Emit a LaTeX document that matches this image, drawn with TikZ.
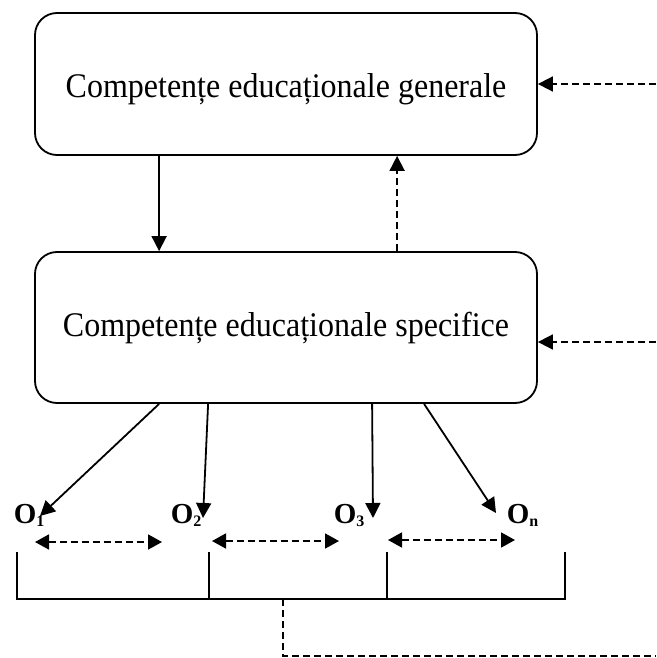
\documentclass[tikz,border=0pt]{standalone}
\usepackage{fontspec}
\setmainfont{Liberation Serif}
\usetikzlibrary{arrows.meta,calc}
\begin{document}
\begin{tikzpicture}[x=1pt,y=-1pt,
  line width=1.8pt,
  tip/.style={-{Triangle[length=15pt,width=15pt]}},
  dtip/.style={{Triangle[length=14pt,width=15pt]}-{Triangle[length=14pt,width=15pt]}},
  dashline/.style={dash pattern=on 7pt off 4pt},
  box/.style={draw, rounded corners=22pt, minimum width=502pt, inner sep=0pt},
  boxtext/.style={font=\fontsize{32}{36}\selectfont, anchor=base, inner sep=0pt},
  olabel/.style={font=\fontsize{29}{30}\selectfont\bfseries, anchor=base west, inner sep=0pt},
]
\useasboundingbox (0,0) rectangle (656,658);

% the two competence boxes
\node[box, minimum height=142pt] (gen) at (286,84) {};
\node[box, minimum height=151pt] (spec) at (286,327.5) {};
\node[boxtext] (gent) at (286,98) {\scalebox{1}[1.08]{Competențe educaționale generale}};
\node[boxtext] (spect) at (286,336) {\scalebox{1}[1.08]{Competențe educaționale specifice}};

% links between the boxes
\draw[tip] ($(gen.south west)+(125,0)$) -- ($(spec.north west)+(125,0)$);
\draw[tip,dashline] ($(spec.north west)+(363,0)$) -- ($(gen.south west)+(363,0)$);

% feedback entering from the right
\coordinate (ingen) at (656,84);
\coordinate (inspec) at (656,342);
\draw[tip,dashline] (ingen) -- (gen.east |- ingen);
\draw[tip,dashline] (inspec) -- (spec.east |- inspec);

% objectives
\newcommand{\osub}[1]{\raisebox{-3pt}{\fontsize{16}{16}\selectfont #1}}
\node[olabel] (o1) at (13,523) {O\osub{1}};
\node[olabel] (o2) at (170,523) {O\osub{2}};
\node[olabel] (o3) at (333,523) {O\osub{3}};
\node[olabel] (on) at (506,523) {O\osub{n}};

\coordinate (t1) at (40,516);
\coordinate (t2) at (203,518);
\coordinate (t3) at (373,518);
\coordinate (t4) at (496,513);
\draw[tip] ($(spec.south west)+(125,0)$) -- (t1);
\draw[tip] ($(spec.south west)+(174,0)$) -- (t2);
\draw[tip] ($(spec.south west)+(338,0)$) -- (t3);
\draw[tip] ($(spec.south west)+(390,0)$) -- (t4);

% relations between neighbouring objectives
\draw[dtip,dashline] (35,542) -- (162,542);
\draw[dtip,dashline] (212,541) -- (339,541);
\draw[dtip,dashline] (388,540) -- (515,540);

% grouping bracket
\coordinate (b1) at (17,552);
\coordinate (b2) at (209,552);
\coordinate (b3) at (387,552);
\coordinate (b4) at (565,552);
\coordinate (base) at (0,599);
\draw (b1) -- (b1 |- base) -- (b4 |- base) -- (b4);
\draw (b2) -- (b2 |- base);
\draw (b3) -- (b3 |- base);

% feedback leaving to the right
\coordinate (out) at (283,599);
\coordinate (outend) at (656,656);
\draw[dashline] (out) -- (out |- outend) -- (outend);
\end{tikzpicture}
\end{document}
